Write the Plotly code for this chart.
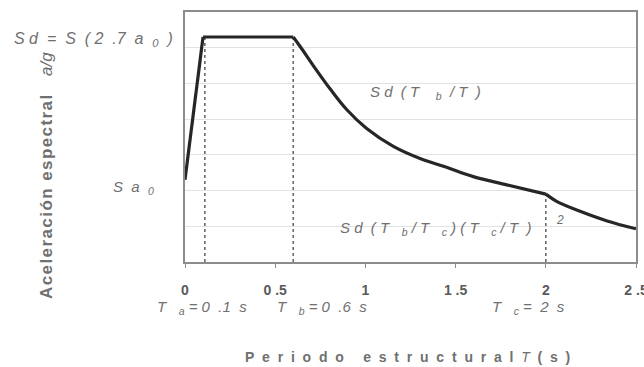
import plotly.graph_objects as go

# Spectrum (T in s, a/g in grid units)
T_rise = [0.0, 0.1]
a_rise = [2.30, 6.30]
T_plat = [0.1, 0.6]
a_plat = [6.30, 6.30]
T_dec1 = [0.6, 0.65, 0.711, 0.804, 0.896, 1.007, 1.155, 1.303, 1.45, 1.598, 1.783, 2.0]
a_dec1 = [6.30, 5.95, 5.50, 4.85, 4.27, 3.74, 3.24, 2.90, 2.65, 2.39, 2.16, 1.90]
T_dec2 = [2.0, 2.06, 2.19, 2.34, 2.5]
a_dec2 = [1.90, 1.70, 1.42, 1.15, 0.93]

# Characteristic periods (dashed markers)
T_marks = [0.11, 0.6, 2.0]
a_marks = [6.30, 6.30, 1.90]

N = "\u00a0"
HS = "\u200a"
x_ticks = [0, 0.5, 1, 1.5, 2, 2.5]
x_tick_text = ["0", "0" + N + ".5", "1", "1" + N + ".5", "2", "2" + N + ".5"]

FONT = "Liberation Sans, Arial, sans-serif"
GRAY = "#707070"
LINE = "#262626"

W, H = 644, 367
L, R, T, B = 185, 8, 12, 105
PW, PH = W - L - R, H - T - B

fig = go.Figure()

for Tm, am in zip(T_marks, a_marks):
    fig.add_trace(go.Scatter(x=[Tm, Tm], y=[0, am], mode="lines",
                             line=dict(color="#6a6a6a", width=1.6, dash="dot"),
                             showlegend=False, hoverinfo="skip"))

for xs, ys, shp in [(T_rise, a_rise, "linear"), (T_plat, a_plat, "linear"),
                    (T_dec1, a_dec1, "spline"), (T_dec2, a_dec2, "spline")]:
    fig.add_trace(go.Scatter(x=xs, y=ys, mode="lines", line_shape=shp,
                             line=dict(color=LINE, width=3.2), showlegend=False))

ann = []
def A(text, X, Y, size=15, xanchor="left", **kw):
    ann.append(dict(text=text, x=(X - L) / PW, y=(H - B - Y) / PH,
                    xref="paper", yref="paper", showarrow=False,
                    xanchor=xanchor, yanchor="middle",
                    font=dict(family=FONT, size=size, color=kw.pop("color", GRAY)), **kw))

def sp(s, n=1):
    return s.replace(" ", N * n)

ylab = HS.join("Aceleración espectral")
A("<i>" + sp("S d  =  S  ( 2  .7  a  ") + "<sub>0</sub>" + sp("  )") + "</i>", 12, 39, size=16)
A("<i>" + sp("S  a  ") + "<sub>0</sub></i>", 111, 187)
A("<b>" + ylab + "</b>" + N * 4 + "<i>a/g</i>", 46, 176, size=17,
  xanchor="center", textangle=-90)
A("<i>" + sp("S d  ( T    ") + "<sub>b</sub>" + sp("  / T  )") + "</i>", 368, 93)
A("<i>" + sp("S d  ( T   ") + "<sub>b</sub>" + sp(" / T   ") + "<sub>c</sub>"
  + sp(" ) ( T   ") + "<sub>c</sub>" + sp(" / T  )") + "</i>", 338, 228)
A("<i>2</i>", 554, 220, size=12)
A("<i>" + sp("T   ") + "<sub>a</sub>" + sp(" = 0  .1  s") + "</i>", 155, 307)
A("<i>" + sp("T   ") + "<sub>b</sub>" + sp(" = 0  .6  s") + "</i>", 275, 307)
A("<i>" + sp("T   ") + "<sub>c</sub>" + sp(" =  2  s") + "</i>", 490, 307)
A("<b>" + sp("P  e  r  i  o  d  o     e  s  t  r  u  c  t  u  r  a  l  ") + "</b><i>T</i><b>"
  + sp("  (  s  )") + "</b>", 243, 357, size=14, xanchor="left")

fig.update_layout(
    width=W, height=H,
    margin=dict(l=L, r=R, t=T, b=B, autoexpand=False),
    paper_bgcolor="white", plot_bgcolor="white",
    font=dict(family=FONT, color=GRAY),
    annotations=ann,
    showlegend=False,
)
fig.update_xaxes(range=[0, 2.5], tickvals=x_ticks, ticktext=x_tick_text,
                 showgrid=False, zeroline=False, automargin=False,
                 showline=True, linecolor="#8c8c8c", linewidth=1.5, mirror=True,
                 ticks="outside", ticklen=4, tickcolor="#8c8c8c",
                 ticklabelstandoff=10, ticklabeloverflow="allow",
                 tickfont=dict(family=FONT, size=14, color="#5a5a5a", weight="bold"))
fig.update_yaxes(range=[0, 7], dtick=1, showticklabels=False, automargin=False,
                 showgrid=True, gridcolor="#e2e2e2", gridwidth=1.2, zeroline=False,
                 showline=True, linecolor="#8c8c8c", linewidth=1.5, mirror=True,
                 ticks="")

fig.write_html("out.html")
